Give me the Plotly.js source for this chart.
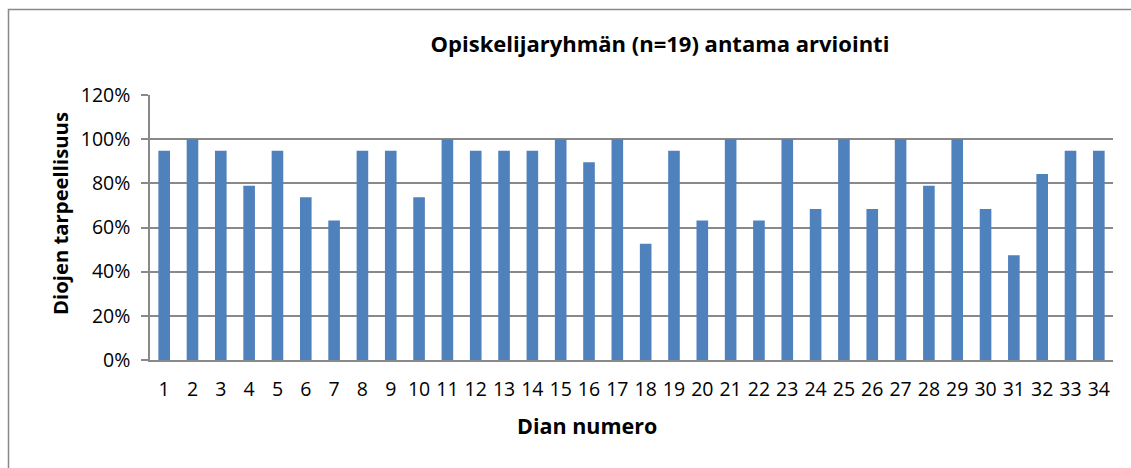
<!DOCTYPE html>
<html>
<head>
<meta charset="utf-8">
<script src="https://cdn.plot.ly/plotly-3.0.1.min.js"></script>
<style>html,body{margin:0;padding:0;background:#fff;}#chart{width:1131px;height:468px;}</style>
</head>
<body>
<div id="chart"></div>
<script>
const slideNumbers = ['1','2','3','4','5','6','7','8','9','10','11','12','13','14','15','16','17','18','19','20','21','22','23','24','25','26','27','28','29','30','31','32','33','34'];
const necessity = [0.947,1.0,0.947,0.789,0.947,0.737,0.632,0.947,0.947,0.737,1.0,0.947,0.947,0.947,1.0,0.895,1.0,0.526,0.947,0.632,1.0,0.632,1.0,0.684,1.0,0.684,1.0,0.789,1.0,0.684,0.474,0.842,0.947,0.947];
const yTickVals = [0,0.2,0.4,0.6,0.8,1.0,1.2];
const yTickText = ['0%','20%','40%','60%','80%','100%','120%'];
const chartTitle = 'Opiskelijaryhmän (n=19) antama arviointi';
const xTitle = 'Dian numero';
const yTitle = 'Diojen tarpeellisuus';

const W = 1131, H = 468;
const M = {l:150, r:18, t:95, b:108};
const pw = W - M.l - M.r, ph = H - M.t - M.b;
const px = v => (v - M.l) / pw;
const py = v => 1 - (v - M.t) / ph;
const FONT = '"Open Sans", sans-serif';

Plotly.newPlot('chart', [{
  type: 'bar',
  x: slideNumbers,
  y: necessity,
  marker: {color: '#4F81BD'},
  hoverinfo: 'x+y'
}], {
  width: W, height: H,
  margin: M,
  paper_bgcolor: '#fff', plot_bgcolor: '#fff',
  bargap: 0.59,
  showlegend: false,
  font: {family: FONT, color: '#000'},
  title: {text: '<b>' + chartTitle + '</b>', x: 660 / W, xanchor: 'center', xref: 'container', y: 1 - 44 / H, yanchor: 'middle', yref: 'container', font: {size: 22, family: FONT, color: '#000'}},
  xaxis: {
    type: 'category',
    showgrid: false,
    showline: true, linecolor: '#898989', linewidth: 1.5,
    ticks: '', ticklabelstandoff: 11,
    tickfont: {size: 19.5, family: FONT, color: '#000'},
    zeroline: false, fixedrange: true
  },
  yaxis: {
    range: [0, 1.2],
    tickvals: yTickVals, ticktext: yTickText,
    showgrid: true, gridcolor: '#898989', gridwidth: 1.5,
    showline: true, linecolor: '#898989', linewidth: 1.5,
    ticks: 'outside', ticklen: 7, tickcolor: '#898989', tickwidth: 1.5,
    ticklabelstandoff: 7,
    tickfont: {size: 19.5, family: FONT, color: '#000'},
    zeroline: false, fixedrange: true
  },
  annotations: [{
    text: '<b>' + xTitle + '</b>', xref: 'paper', yref: 'paper',
    x: px(587), y: py(425), xanchor: 'center', yanchor: 'middle', showarrow: false,
    font: {size: 21.5, family: FONT, color: '#000'}
  }, {
    text: '<b>' + yTitle + '</b>', xref: 'paper', yref: 'paper', textangle: -90,
    x: px(60), y: py(214), xanchor: 'center', yanchor: 'middle', showarrow: false,
    font: {size: 20.3, family: FONT, color: '#000'}
  }],
  shapes: [{
    type: 'rect', xref: 'paper', yref: 'paper', layer: 'below',
    x0: px(8.5), x1: px(1140), y0: py(9.5), y1: py(480),
    line: {color: '#898989', width: 1.5}, fillcolor: 'rgba(0,0,0,0)'
  }]
}, {displayModeBar: false});
</script>
</body>
</html>
